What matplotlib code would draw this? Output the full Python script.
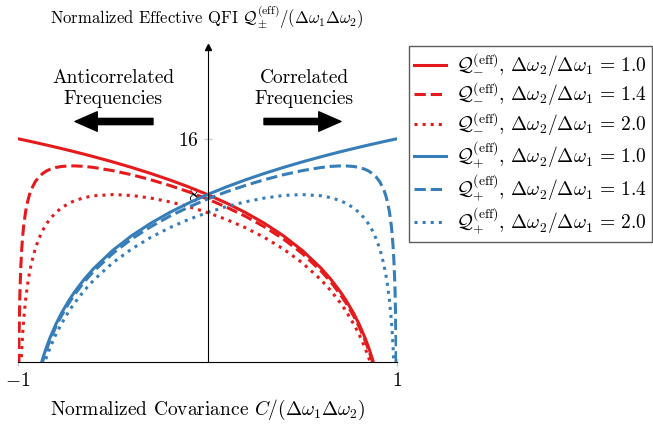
import matplotlib
matplotlib.use("Agg")
import matplotlib.pyplot as plt
from matplotlib.ticker import NullLocator, FixedLocator, FixedFormatter

plt.rcParams.update({
    "font.family": "serif",
    "font.serif": ["cmr10"],
    "mathtext.fontset": "cm",
    "axes.formatter.use_mathtext": True,
    "font.size": 12,
})

# Normalized covariance grid
cov = [-1.0, -0.995, -0.99, -0.985, -0.98, -0.975, -0.97, -0.96, -0.95, -0.94, -0.93,
       -0.91, -0.89, -0.87, -0.85, -0.83, -0.8, -0.77, -0.73, -0.7, -0.65, -0.6,
       -0.5, -0.4, -0.3, -0.2, -0.1, 0.0, 0.1, 0.2, 0.3, 0.4, 0.5,
       0.6, 0.65, 0.7, 0.73, 0.77, 0.8, 0.83, 0.85, 0.87, 0.89, 0.91,
       0.93, 0.94, 0.95, 0.96, 0.97, 0.975, 0.98, 0.985, 0.99, 0.995, 1.0]

# Q_minus (anticorrelated) for ratios 1.0, 1.4, 2.0
q_minus_10 = [16.0, 15.96, 15.92, 15.88, 15.84, 15.8, 15.76, 15.68, 15.6, 15.52, 15.44,
              15.28, 15.12, 14.96, 14.8, 14.64, 14.4, 14.16, 13.84, 13.6, 13.2, 12.8,
              12.0, 11.2, 10.4, 9.6, 8.8, 8.0, 7.2, 6.4, 5.6, 4.8, 4.0,
              3.2, 2.8, 2.4, 2.16, 1.84, 1.6, 1.36, 1.2, 1.04, 0.88, 0.72,
              0.56, 0.48, 0.4, 0.32, 0.24, 0.2, 0.16, 0.12, 0.08, 0.04, 0.0]
q_minus_14 = [0.0, 1.28, 2.37, 3.30, 4.11, 4.81, 5.43, 6.46, 7.28, 7.95, 8.50,
              9.35, 9.95, 10.39, 10.72, 10.96, 11.20, 11.34, 11.42, 11.42, 11.35, 11.20,
              10.77, 10.23, 9.62, 8.96, 8.28, 7.57, 6.84, 6.11, 5.36, 4.61, 3.85,
              3.09, 2.71, 2.32, 2.09, 1.78, 1.55, 1.32, 1.16, 1.01, 0.85, 0.70,
              0.54, 0.47, 0.39, 0.31, 0.23, 0.19, 0.16, 0.12, 0.08, 0.04, 0.0]
q_minus_20 = [0.0, 0.31, 0.61, 0.90, 1.17, 1.44, 1.69, 2.16, 2.60, 3.00, 3.38,
              4.05, 4.62, 5.12, 5.55, 5.93, 6.40, 6.79, 7.19, 7.42, 7.70, 7.88,
              8.00, 7.91, 7.66, 7.31, 6.89, 6.40, 5.87, 5.30, 4.70, 4.07, 3.43,
              2.77, 2.43, 2.09, 1.89, 1.61, 1.41, 1.20, 1.06, 0.92, 0.78, 0.64,
              0.50, 0.43, 0.36, 0.28, 0.21, 0.18, 0.14, 0.11, 0.07, 0.04, 0.0]

# Q_plus (correlated) for ratios 1.0, 1.4, 2.0
q_plus_10 = [0.0, 0.04, 0.08, 0.12, 0.16, 0.2, 0.24, 0.32, 0.4, 0.48, 0.56,
             0.72, 0.88, 1.04, 1.2, 1.36, 1.6, 1.84, 2.16, 2.4, 2.8, 3.2,
             4.0, 4.8, 5.6, 6.4, 7.2, 8.0, 8.8, 9.6, 10.4, 11.2, 12.0,
             12.8, 13.2, 13.6, 13.84, 14.16, 14.4, 14.64, 14.8, 14.96, 15.12, 15.28,
             15.44, 15.52, 15.6, 15.68, 15.76, 15.8, 15.84, 15.88, 15.92, 15.96, 16.0]
q_plus_14 = [0.0, 0.04, 0.08, 0.12, 0.16, 0.19, 0.23, 0.31, 0.39, 0.47, 0.54,
             0.70, 0.85, 1.01, 1.16, 1.32, 1.55, 1.78, 2.09, 2.32, 2.71, 3.09,
             3.85, 4.61, 5.36, 6.11, 6.84, 7.57, 8.28, 8.96, 9.62, 10.23, 10.77,
             11.20, 11.35, 11.42, 11.42, 11.34, 11.20, 10.96, 10.72, 10.39, 9.95, 9.35,
             8.50, 7.95, 7.28, 6.46, 5.43, 4.81, 4.11, 3.30, 2.37, 1.28, 0.0]
q_plus_20 = [0.0, 0.04, 0.07, 0.11, 0.14, 0.18, 0.21, 0.28, 0.36, 0.43, 0.50,
             0.64, 0.78, 0.92, 1.06, 1.20, 1.41, 1.61, 1.89, 2.09, 2.43, 2.77,
             3.43, 4.07, 4.70, 5.30, 5.87, 6.40, 6.89, 7.31, 7.66, 7.91, 8.00,
             7.88, 7.70, 7.42, 7.19, 6.79, 6.40, 5.93, 5.55, 5.12, 4.62, 4.05,
             3.38, 3.00, 2.60, 2.16, 1.69, 1.44, 1.17, 0.90, 0.61, 0.31, 0.0]

ratios = ["1.0", "1.4", "2.0"]
x_ticks = [-1, 1]
x_ticklabels = [r"$-1$", r"$1$"]
y_ticks = [8, 16]
y_ticklabels = [r"$8$", r"$16$"]

red = "#e41a1c"
blue = "#377eb8"
styles = ["-", "--", ":"]

fig = plt.figure(figsize=(6.53, 4.29), dpi=100)
ax = fig.add_axes([18 / 653, 1 - 362 / 429, (397 - 18) / 653, (362 - 47) / 429])
ax.set_yscale("log")
ax.set_xlim(-1, 1)
ax.set_ylim(1, 50)
ax.set_axisbelow(True)

for ys, ls, r in zip([q_minus_10, q_minus_14, q_minus_20], styles, ratios):
    ax.plot(cov, ys, color=red, ls=ls, lw=2.2,
            label=r"$\mathcal{Q}_{-}^{(\mathrm{eff})}$, $\Delta\omega_2/\Delta\omega_1\,=\,%s$" % r)
for ys, ls, r in zip([q_plus_10, q_plus_14, q_plus_20], styles, ratios):
    ax.plot(cov, ys, color=blue, ls=ls, lw=2.2,
            label=r"$\mathcal{Q}_{+}^{(\mathrm{eff})}$, $\Delta\omega_2/\Delta\omega_1\,=\,%s$" % r)

# spines
ax.spines["left"].set_position(("data", 0))
ax.spines["top"].set_visible(False)
ax.spines["right"].set_visible(False)
for s in ("left", "bottom"):
    ax.spines[s].set_linewidth(0.8)
ax.plot(0, 1, marker="^", color="k", markersize=4, transform=ax.get_xaxis_transform(), clip_on=False)
ax.plot(1, 0, marker=">", color="k", markersize=4, transform=ax.get_yaxis_transform(), clip_on=False)

ax.yaxis.set_minor_locator(NullLocator())
ax.yaxis.set_major_locator(FixedLocator(y_ticks))
ax.yaxis.set_major_formatter(FixedFormatter(y_ticklabels))
ax.set_xticks(x_ticks)
ax.set_xticklabels(x_ticklabels)
ax.tick_params(axis="both", direction="inout", length=6, width=1, color="#cccccc",
               labelsize=14)
ax.tick_params(axis="y", pad=3.5)
ax.tick_params(axis="x", pad=4)

ax.set_xlabel(r"Normalized Covariance $C/(\Delta\omega_1\Delta\omega_2)$", fontsize=14, labelpad=6)
fig.text(207 / 653, 1 - 17 / 429,
         r"Normalized Effective QFI $\mathcal{Q}_{\pm}^{(\mathrm{eff})}/(\Delta\omega_1\Delta\omega_2)$",
         ha="center", va="center", fontsize=12)

fig.text(113 / 653, 1 - 88.5 / 429, "Anticorrelated\nFrequencies", ha="center", va="center",
         fontsize=14, linespacing=1.15)
fig.text(304 / 653, 1 - 88.5 / 429, "Correlated\nFrequencies", ha="center", va="center",
         fontsize=14, linespacing=1.15)

arrow_style = "simple,head_length=1.6,head_width=1.4,tail_width=0.45"
ax.annotate("", xy=(75 / 653, 1 - 121.5 / 429), xytext=(153 / 653, 1 - 121.5 / 429),
            xycoords="figure fraction", textcoords="figure fraction",
            arrowprops=dict(arrowstyle=arrow_style, color="black", mutation_scale=10,
                            shrinkA=0, shrinkB=0))
ax.annotate("", xy=(341 / 653, 1 - 121.5 / 429), xytext=(264 / 653, 1 - 121.5 / 429),
            xycoords="figure fraction", textcoords="figure fraction",
            arrowprops=dict(arrowstyle=arrow_style, color="black", mutation_scale=10,
                            shrinkA=0, shrinkB=0))

leg = fig.legend(loc="upper left", bbox_to_anchor=(409 / 653, 1 - 46 / 429),
                 fontsize=14, frameon=True, fancybox=False, edgecolor="#333333",
                 handlelength=1.65, labelspacing=0.1, borderpad=0.25, handletextpad=0.5,
                 borderaxespad=0)
leg.get_frame().set_linewidth(1.0)

fig.savefig("out.png", dpi=100)
